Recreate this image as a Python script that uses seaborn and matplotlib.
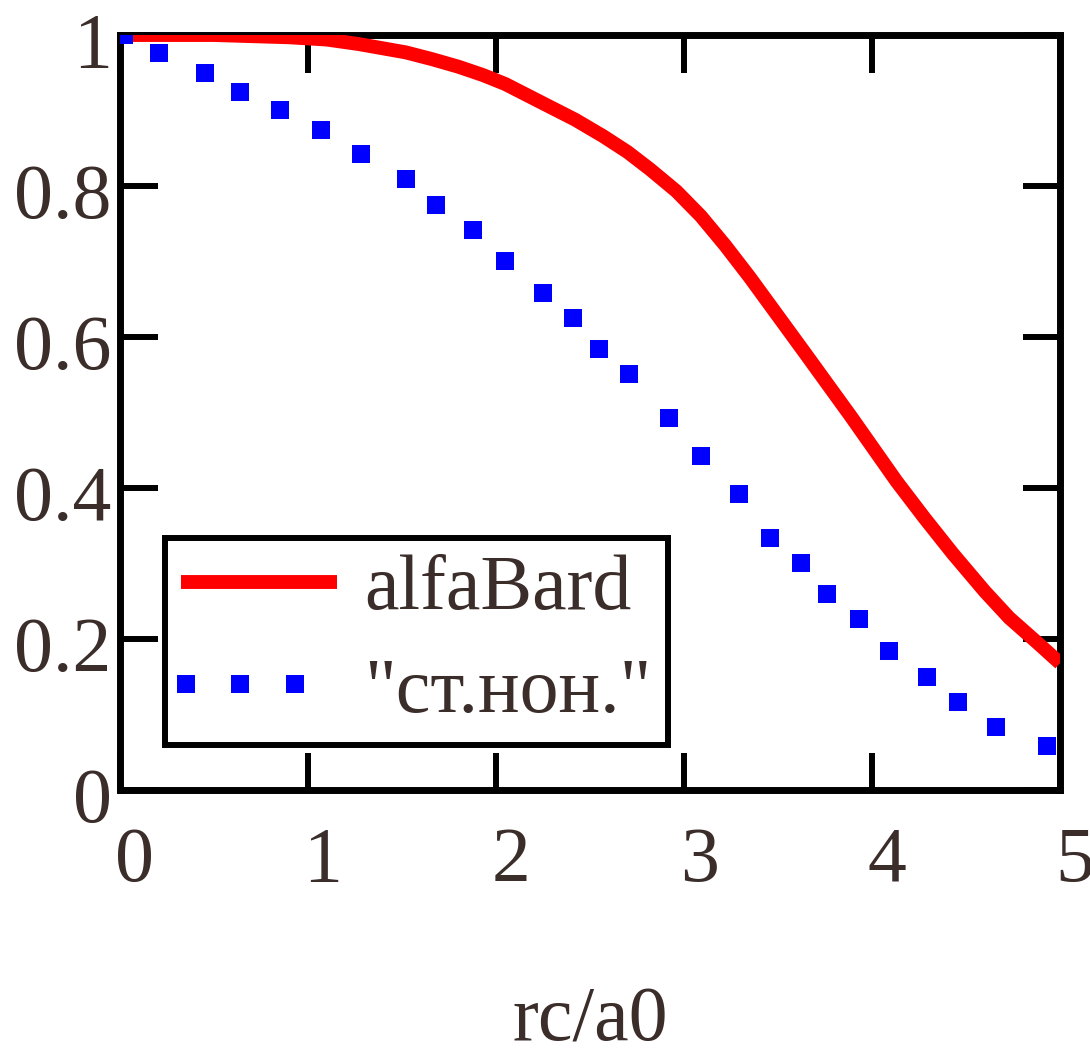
import numpy as np
import pandas as pd
import matplotlib
matplotlib.use("Agg")
import matplotlib.pyplot as plt
import matplotlib.transforms as mtrans
from matplotlib.legend_handler import HandlerLine2D
import seaborn as sns

# ---- data ----
alfa_x = [0.0, 0.5, 0.9, 1.1, 1.27, 1.52, 1.66, 1.80, 1.93, 2.05, 2.27, 2.42,
          2.57, 2.70, 2.82, 2.96, 3.09, 3.22, 3.35, 3.64, 3.89, 4.13, 4.28,
          4.43, 4.60, 4.73, 4.88, 5.0]
alfa_y = [1.0, 1.0, 0.997, 0.994, 0.988, 0.977, 0.968, 0.958, 0.947, 0.935,
          0.907, 0.888, 0.866, 0.845, 0.822, 0.793, 0.760, 0.721, 0.679, 0.580,
          0.494, 0.409, 0.360, 0.313, 0.263, 0.228, 0.195, 0.168]

st_x = [0.02, 0.21, 0.45, 0.64, 0.85, 1.07, 1.28, 1.52, 1.68, 1.88, 2.05, 2.25,
        2.41, 2.55, 2.71, 2.92, 3.09, 3.29, 3.46, 3.62, 3.76, 3.93, 4.09, 4.29,
        4.46, 4.66, 4.93]
st_y = [1.0, 0.976, 0.950, 0.925, 0.901, 0.874, 0.842, 0.809, 0.775, 0.742,
        0.701, 0.658, 0.625, 0.584, 0.551, 0.493, 0.442, 0.392, 0.334, 0.301,
        0.260, 0.226, 0.184, 0.150, 0.117, 0.083, 0.058]

x_ticks = [0, 1, 2, 3, 4, 5]
x_ticklabels = ["0", "1", "2", "3", "4", "5"]
y_ticks = [0, 0.2, 0.4, 0.6, 0.8, 1.0]
y_ticklabels = ["0", "0.2", "0.4", "0.6", "0.8", "1"]

label_alfa = "alfaBard"
label_st = "\"ст.нон.\""
x_label = "rc/a0"

sns.set_theme(style="white")
plt.rcParams["font.family"] = ["Liberation Serif", "DejaVu Serif"]
txt_color = "#3b2e2a"
fs = 56

df_a = pd.DataFrame({"x": alfa_x, "y": alfa_y})
df_s = pd.DataFrame({"x": st_x, "y": st_y})

fig = plt.figure(figsize=(10.90, 10.56), dpi=100)
ax = fig.add_axes([120 / 1090, 1 - 790 / 1056, 940 / 1090, 755 / 1056])

sns.lineplot(data=df_a, x="x", y="y", ax=ax, color="#ff0000", linewidth=10,
             label=label_alfa, zorder=3, solid_capstyle="butt",
             solid_joinstyle="round")
sns.lineplot(data=df_s, x="x", y="y", ax=ax, color="#0000ff", linestyle="none",
             marker="s", markersize=13.5, markeredgewidth=0, label=label_st,
             zorder=4)

ax.set_xlim(0, 5)
ax.set_ylim(0, 1)
ax.set_xticks(x_ticks)
ax.set_xticklabels(x_ticklabels)
ax.set_yticks(y_ticks)
ax.set_yticklabels(y_ticklabels)

for s in ax.spines.values():
    s.set_color("black")
    s.set_linewidth(5)
    s.set_visible(True)

ax.tick_params(axis="both", direction="in", length=27, width=4.3, color="black",
               top=True, right=True, bottom=True, left=True,
               labelsize=fs, labelcolor=txt_color)
ax.tick_params(axis="x", pad=26)
ax.tick_params(axis="y", pad=6)

# shift x tick labels slightly right, y labels slightly down
for lab in ax.get_xticklabels():
    lab.set_transform(lab.get_transform() +
                      mtrans.ScaledTranslation(15 / 100, 0, fig.dpi_scale_trans))
for lab in ax.get_yticklabels():
    lab.set_transform(lab.get_transform() +
                      mtrans.ScaledTranslation(0, -5 / 100, fig.dpi_scale_trans))

ax.set_xlabel(x_label, fontsize=fs, color=txt_color, labelpad=64)
ax.set_ylabel("")


class DotsHandler(HandlerLine2D):
    def get_xdata(self, legend, xdescent, ydescent, width, height, fontsize):
        xs = -xdescent + np.array([0.03, 0.38, 0.73]) * width
        return xs, xs


handles, labels = ax.get_legend_handles_labels()
leg = ax.legend(handles, labels, loc="lower left",
                bbox_to_anchor=(45 / 940, 45 / 755), borderaxespad=0,
                fontsize=fs, frameon=True, fancybox=False,
                handlelength=2.0, handletextpad=0.35, labelspacing=0.4,
                borderpad=0.21,
                handler_map={handles[1]: DotsHandler(numpoints=3)})
fr = leg.get_frame()
fr.set_edgecolor("black")
fr.set_linewidth(4.3)
fr.set_facecolor("white")
fr.set_alpha(1)
for t in leg.get_texts():
    t.set_color(txt_color)

fig.savefig("out.png", dpi=100, facecolor="white")
